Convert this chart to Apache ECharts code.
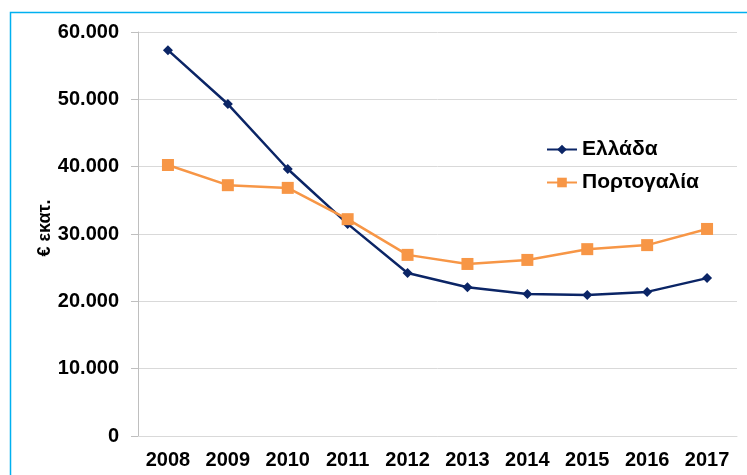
<!DOCTYPE html>
<html><head><meta charset="utf-8">
<script src="https://cdn.jsdelivr.net/npm/echarts@6/dist/echarts.min.js"></script>
<style>html,body{margin:0;padding:0;background:#fff}#c{width:747px;height:475px}</style>
</head><body><div id="c"></div>
<script>
const years = ['2008','2009','2010','2011','2012','2013','2014','2015','2016','2017'];
const greece = [57300, 49300, 39650, 31500, 24200, 22100, 21100, 20950, 21400, 23450];
const portugal = [40250, 37250, 36850, 32200, 26900, 25550, 26150, 27750, 28350, 30750];
const seriesNames = ['Ελλάδα', 'Πορτογαλία'];
const yTicks = [0, 10000, 20000, 30000, 40000, 50000, 60000];

const chart = echarts.init(document.getElementById('c'), null, {renderer: 'canvas'});
const fmt = v => v === 0 ? '0' : String(v).replace(/(\d)(?=(\d{3})+$)/g, '$1.');
chart.setOption({
  animation: false,
  textStyle: {fontFamily: 'Liberation Sans, Arial, sans-serif'},
  graphic: [{
    type: 'rect', shape: {x: 10.5, y: 12.5, width: 800, height: 600},
    style: {fill: 'none', stroke: '#00B0F0', lineWidth: 1.5}, silent: true
  }],
  grid: {left: 138, right: 10, top: 32, bottom: 39, containLabel: false},
  legend: {
    left: 541, top: 134, orient: 'vertical', itemGap: 12, itemWidth: 30, itemHeight: 12,
    data: seriesNames,
    textStyle: {fontSize: 21, fontWeight: 'bold', color: '#000', fontFamily: 'Liberation Sans, Arial, sans-serif'}
  },
  xAxis: {
    type: 'category', data: years, boundaryGap: true,
    axisLine: {lineStyle: {color: '#d9d9d9', width: 1}},
    axisTick: {show: false},
    axisLabel: {fontSize: 20, fontWeight: 'bold', color: '#000', margin: 14}
  },
  yAxis: {
    type: 'value', min: 0, max: 60000, interval: 10000,
    name: '€ εκατ.', nameLocation: 'middle', nameGap: 84, nameRotate: 90, nameMoveOverlap: false,
    nameTextStyle: {fontSize: 18, fontWeight: 'bold', color: '#000', padding: [0, 0, 0, 12]},
    axisLine: {show: true, lineStyle: {color: '#bfbfbf', width: 1}},
    axisTick: {show: true, length: 7, lineStyle: {color: '#bfbfbf'}},
    splitLine: {lineStyle: {color: '#d9d9d9', width: 1}},
    axisLabel: {fontSize: 20, fontWeight: 'bold', color: '#000', margin: 19,
      formatter: v => yTicks.includes(v) ? fmt(v) : ''}
  },
  series: [
    {name: seriesNames[0], type: 'line', data: greece, symbol: 'diamond', symbolSize: 10,
     lineStyle: {color: '#0B2566', width: 2.5}, itemStyle: {color: '#0B2566'}},
    {name: seriesNames[1], type: 'line', data: portugal, symbol: 'rect', symbolSize: 12,
     lineStyle: {color: '#F79646', width: 2.5}, itemStyle: {color: '#F79646'}}
  ]
});
</script></body></html>
